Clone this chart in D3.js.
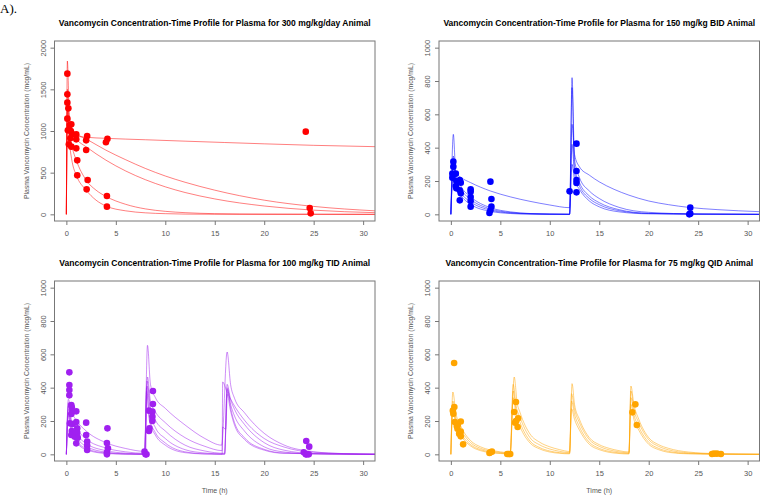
<!DOCTYPE html>
<html>
<head>
<meta charset="utf-8">
<script src="https://cdn.jsdelivr.net/npm/d3@7"></script>
<style>
  body { margin: 0; background: #fff; }
  svg { display: block; font-family: "Liberation Sans", Arial, sans-serif; }
</style>
</head>
<body>
<div id="chart"></div>
<script>
// Vancomycin plasma profiles, 4 dosing regimens
// observed points: [time (h), conc (mcg/mL)]
var obs300 = [[0.1,1688],[0.1,1440],[0.1,1340],[0.2,1272],[0.1,1148],[0.35,1072],[0.5,1080],[0.15,1008],
  [0.45,1000],[0.6,960],[1.0,960],[0.4,912],[1.0,900],[0.25,840],[0.5,812],[1.0,792],[2.1,940],[2.0,888],
  [2.0,772],[1.1,648],[1.1,468],[2.15,412],[2.05,300],[4.1,220],[4.1,92],[4.15,905],[4.0,865],[24.2,992],
  [24.6,76],[24.7,12]];
var obs150 = [[0.25,316],[0.25,286],[0.15,244],[0.5,244],[0.15,220],[0.55,200],[0.9,206],[1.0,190],[0.5,170],
  [0.55,156],[0.9,144],[1.0,126],[0.9,84],[2.0,150],[2.0,136],[2.0,104],[2.0,80],[2.0,46],[4.0,196],[4.1,92],
  [4.1,46],[4.0,24],[3.9,8],[12.0,138],[12.7,424],[12.7,260],[12.7,206],[12.7,188],[12.7,132],[24.2,40],
  [24.2,4],[24.1,0]];
var obs100 = [[0.3,492],[0.3,416],[0.3,386],[0.3,354],[0.5,296],[0.55,282],[0.6,256],[0.5,242],[1.0,258],
  [0.35,186],[0.65,182],[1.0,194],[1.1,156],[0.55,140],[1.1,130],[0.5,116],[0.85,106],[1.15,100],[1.0,66],
  [2.0,190],[2.0,116],[2.1,76],[2.1,52],[2.1,26],[4.15,156],[4.1,68],[4.2,36],[4.1,12],[4.1,0],[7.9,16],
  [8.0,0],[8.1,0],[8.35,262],[8.4,156],[8.35,140],[8.75,380],[8.75,302],[8.7,256],[8.7,226],[8.7,200],
  [24.25,80],[24.55,46],[24.0,12],[24.2,0],[24.3,0],[24.5,0]];
var obs75 = [[0.33,548],[0.35,284],[0.2,262],[0.25,244],[0.4,194],[0.7,176],[1.0,197],[0.67,154],[1.0,136],
  [0.84,124],[1.0,108],[1.24,60],[0.6,170],[4.0,12],[4.15,16],[3.9,8],[5.7,2],[6.0,2],[5.85,2],[6.58,200],
  [6.4,254],[6.58,314],[6.75,164],[6.8,216],[6.5,190],[18.35,252],[18.65,300],[18.8,176],[26.6,4],[26.9,4],
  [27.3,2],[26.4,2]];

// model predicted profiles per animal
var fit300 = [
  [[0,0],[0.1,1250],[0.3,1030],[0.6,960],[1,940],[2,925],[4,912],[8,895],[12,878],[16,862],[20,846],[25,828],[31.2,812]],
  [[0,0],[0.1,1840],[0.3,1200],[0.6,1020],[1,970],[2,905],[4,770],[6,655],[8,550],[10,460],[12,385],[15,290],[20,170],[25,95],[31.2,42]],
  [[0,0],[0.1,1500],[0.3,1080],[0.6,960],[1,900],[2,810],[4,650],[6,520],[8,415],[10,330],[12,262],[15,185],[20,100],[25,50],[31.2,20]],
  [[0,0],[0.1,1300],[0.3,1000],[0.6,800],[1,650],[2,410],[3,290],[4,215],[6,120],[8,65],[10,36],[12,20],[15,8],[20,2],[31.2,0]],
  [[0,0],[0.1,1100],[0.3,860],[0.6,620],[1,470],[2,290],[3,170],[4,100],[6,42],[8,18],[10,8],[12,3],[15,1],[31.2,0]]
];
var fit150 = [
  [[0,0],[0.25,300],[0.5,250],[1,222],[2,190],[4,140],[6,105],[8,78],[10,56],[12,40],[12.25,540],[12.5,360],[13,285],[14,235],[15,195],[16.5,150],[18,115],[20,80],[22,58],[24,42],[27,28],[31.2,16]],
  [[0,0],[0.25,480],[0.5,240],[1,170],[2,105],[4,40],[6,15],[8,5],[10,2],[12,1],[12.25,820],[12.5,330],[13,220],[14,140],[15,95],[17,42],[20,12],[25,2],[31.2,0]],
  [[0,0],[0.25,350],[0.5,210],[1,150],[2,90],[4,32],[6,11],[8,4],[12,0],[12.25,760],[12.5,280],[13,190],[14,110],[15,70],[17,28],[20,6],[25,1],[31.2,0]],
  [[0,0],[0.25,300],[0.5,190],[1,130],[2,75],[4,25],[6,8],[8,3],[12,0],[12.25,420],[12.5,250],[13,170],[14,95],[15,58],[17,22],[20,5],[31.2,0]],
  [[0,0],[0.25,260],[0.5,170],[1,115],[2,60],[4,18],[6,5],[8,1],[12,0],[12.25,300],[12.5,210],[13,150],[14,80],[15,45],[17,15],[20,3],[31.2,0]]
];
var fit100 = [
  [[0,0],[0.2,330],[0.5,260],[1,205],[2,140],[4,70],[6,35],[7.9,18],[8.2,654],[8.5,420],[9,340],[10,276],[12,176],[14,95],[15.7,55],[16.25,614],[16.6,420],[17,336],[18,250],[20,126],[22,56],[25,16],[28,4],[31.2,1]],
  [[0,0],[0.2,310],[0.5,210],[1,155],[2,92],[4,38],[6,15],[7.9,6],[8.2,464],[8.5,320],[9,255],[10,190],[12,100],[14,48],[15.75,22],[15.8,434],[16.2,380],[17,290],[18,205],[20,95],[22,44],[25,12],[31.2,1]],
  [[0,0],[0.2,290],[0.5,185],[1,125],[2,65],[4,22],[6,7],[7.9,2],[8.15,440],[8.5,280],[9,205],[10,140],[12,55],[14,20],[16,6],[16.25,420],[16.6,330],[17,270],[18,180],[20,70],[22,25],[25,5],[31.2,0]],
  [[0,0],[0.2,270],[0.5,165],[1,105],[2,48],[4,13],[6,3],[7.9,1],[8.15,410],[8.5,240],[9,160],[10,95],[12,28],[14,8],[16,2],[16.25,400],[16.6,300],[17,230],[18,140],[20,45],[22,14],[25,2],[31.2,0]],
  [[0,0],[0.2,250],[0.5,145],[1,85],[2,35],[4,8],[6,2],[8,0],[8.1,400],[8.4,220],[9,130],[10,68],[12,15],[14,3],[15.75,1],[15.8,164],[16.1,150],[16.3,390],[16.6,280],[17,190],[18,100],[20,30],[22,8],[31.2,0]],
  [[0,0],[0.2,230],[0.5,130],[1,75],[2,28],[4,5],[6,1],[8,0],[8.1,380],[8.4,200],[9,115],[10,55],[12,10],[14,2],[16,0],[16.25,360],[16.6,260],[17,175],[18,90],[20,25],[22,6],[31.2,0]]
];
var fit75 = [
  [[0,0],[0.2,374],[0.5,250],[1,170],[2,82],[3,45],[4,26],[5,15],[6,9],[6.4,464],[6.7,310],[7,250],[8,122],[9,72],[10,45],[11,28],[12,17],[12.25,424],[12.5,300],[13,210],[14,100],[15,58],[16,36],[17,22],[18,14],[18.2,410],[18.5,300],[19,210],[20,100],[21,58],[22,36],[24,14],[27,4],[31.2,1]],
  [[0,0],[0.2,320],[0.5,220],[1,150],[2,70],[3,36],[4,20],[5,11],[6,6],[6.3,420],[6.6,290],[7,220],[8,100],[9,56],[10,32],[11,18],[12,10],[12.2,364],[12.5,270],[13,190],[14,88],[15,48],[16,27],[17,15],[18,9],[18.2,380],[18.5,270],[19,190],[20,88],[21,48],[22,27],[24,9],[27,2],[31.2,0]],
  [[0,0],[0.2,290],[0.5,200],[1,130],[2,58],[3,28],[4,14],[5,7],[6,4],[6.3,380],[6.6,260],[7,190],[8,80],[9,40],[10,20],[11,10],[12,6],[12.2,320],[12.5,240],[13,165],[14,72],[15,36],[16,18],[17,9],[18,5],[18.2,340],[18.5,240],[19,165],[20,72],[21,36],[22,18],[24,5],[27,1],[31.2,0]],
  [[0,0],[0.2,260],[0.5,180],[1,115],[2,50],[3,22],[4,10],[5,5],[6,2],[6.3,340],[6.6,230],[7,165],[8,68],[9,32],[10,14],[11,6],[12,3],[12.2,274],[12.5,210],[13,145],[14,60],[15,28],[16,12],[17,5],[18,2],[18.2,300],[18.5,210],[19,145],[20,60],[21,28],[22,12],[24,3],[31.2,0]]
];

var xTicks = [0, 5, 10, 15, 20, 25, 30];
var yTicks2000 = [0, 500, 1000, 1500, 2000];
var yTicks1000 = [0, 200, 400, 600, 800, 1000];

var titles = [
  "Vancomycin Concentration-Time Profile for Plasma for 300 mg/kg/day Animal",
  "Vancomycin Concentration-Time Profile for Plasma for 150 mg/kg BID Animal",
  "Vancomycin Concentration-Time Profile for Plasma for 100 mg/kg TID Animal",
  "Vancomycin Concentration-Time Profile for Plasma for 75 mg/kg QID Animal"
];

var svgWidth = 760;
var svgHeight = 496;

var svg = d3.select("#chart")
  .append("svg")
  .attr("width", svgWidth)
  .attr("height", svgHeight);

svg.append("text")
  .attr("x", 0)
  .attr("y", 12.5)
  .style("font-family", "'Liberation Serif', 'Times New Roman', serif")
  .style("font-size", "13px")
  .text("A).");

var panels = [
  { left: 54.5, top: 41, yMax: 2000, yTicks: yTicks2000, color: "#ff0000", obs: obs300, fits: fit300, title: titles[0], xlab: false },
  { left: 439, top: 41, yMax: 1000, yTicks: yTicks1000, color: "#0000ff", obs: obs150, fits: fit150, title: titles[1], xlab: false },
  { left: 54.5, top: 281, yMax: 1000, yTicks: yTicks1000, color: "#a020f0", obs: obs100, fits: fit100, title: titles[2], xlab: true },
  { left: 439, top: 281, yMax: 1000, yTicks: yTicks1000, color: "#ffa500", obs: obs75, fits: fit75, title: titles[3], xlab: true }
];

var pw = 320.5, ph = 180;

panels.forEach(function (p, i) {
  var g = svg.append("g").attr("transform", `translate(${p.left}, ${p.top})`);

  // R style 4% padding on both axes
  var x = d3.scaleLinear().domain([-1.2, 31.2]).range([0, pw]);
  var pad = p.yMax * 0.04;
  var y = d3.scaleLinear().domain([-pad, p.yMax + pad]).range([ph, 0]);

  g.append("clipPath").attr("id", "clip" + i)
    .append("rect").attr("width", pw).attr("height", ph);

  var line = d3.line()
    .x(d => x(d[0]))
    .y(d => y(d[1]))
    .curve(d3.curveMonotoneX);

  g.append("g")
    .attr("clip-path", `url(#clip${i})`)
    .selectAll("path")
    .data(p.fits)
    .enter()
    .append("path")
    .attr("d", line)
    .attr("fill", "none")
    .attr("stroke", p.color)
    .attr("stroke-opacity", 0.5)
    .attr("stroke-width", 1);

  g.append("g")
    .selectAll("circle")
    .data(p.obs)
    .enter()
    .append("circle")
    .attr("cx", d => x(d[0]))
    .attr("cy", d => y(d[1]))
    .attr("r", 3.3)
    .attr("fill", p.color);

  // axes
  var bottomAxis = d3.axisBottom(x).tickValues(xTicks).tickSize(4).tickSizeOuter(0).tickPadding(5.5)
    .tickFormat(d3.format("d"));
  var leftAxis = d3.axisLeft(y).tickValues(p.yTicks).tickSize(4).tickSizeOuter(0)
    .tickFormat(d3.format("d"));

  var xa = g.append("g")
    .attr("transform", `translate(0, ${ph})`)
    .call(bottomAxis);
  var ya = g.append("g").call(leftAxis);

  [xa, ya].forEach(function (a) {
    a.select(".domain").remove();
    a.selectAll("line").attr("stroke", "#777");
    a.selectAll("text").attr("fill", "#555").style("font-size", "7.5px");
  });

  ya.selectAll("text")
    .attr("transform", "rotate(-90)")
    .attr("x", 0)
    .attr("y", -9)
    .attr("dy", null)
    .attr("text-anchor", "middle");

  g.append("rect")
    .attr("width", pw)
    .attr("height", ph)
    .attr("fill", "none")
    .attr("stroke", "#777")
    .attr("stroke-width", 1);

  g.append("text")
    .attr("x", pw / 2)
    .attr("y", -15)
    .attr("text-anchor", "middle")
    .style("font-weight", "bold")
    .style("font-size", "8.5px")
    .text(p.title);

  g.append("text")
    .attr("transform", `translate(-26, ${ph / 2}) rotate(-90)`)
    .attr("text-anchor", "middle")
    .attr("fill", "#555")
    .style("font-size", "6.8px")
    .text("Plasma Vancomycin Concentration (mcg/mL)");

  if (p.xlab) {
    g.append("text")
      .attr("x", pw / 2)
      .attr("y", ph + 32)
      .attr("text-anchor", "middle")
      .attr("fill", "#555")
      .style("font-size", "7px")
      .text("Time (h)");
  }
});
</script>
</body>
</html>
